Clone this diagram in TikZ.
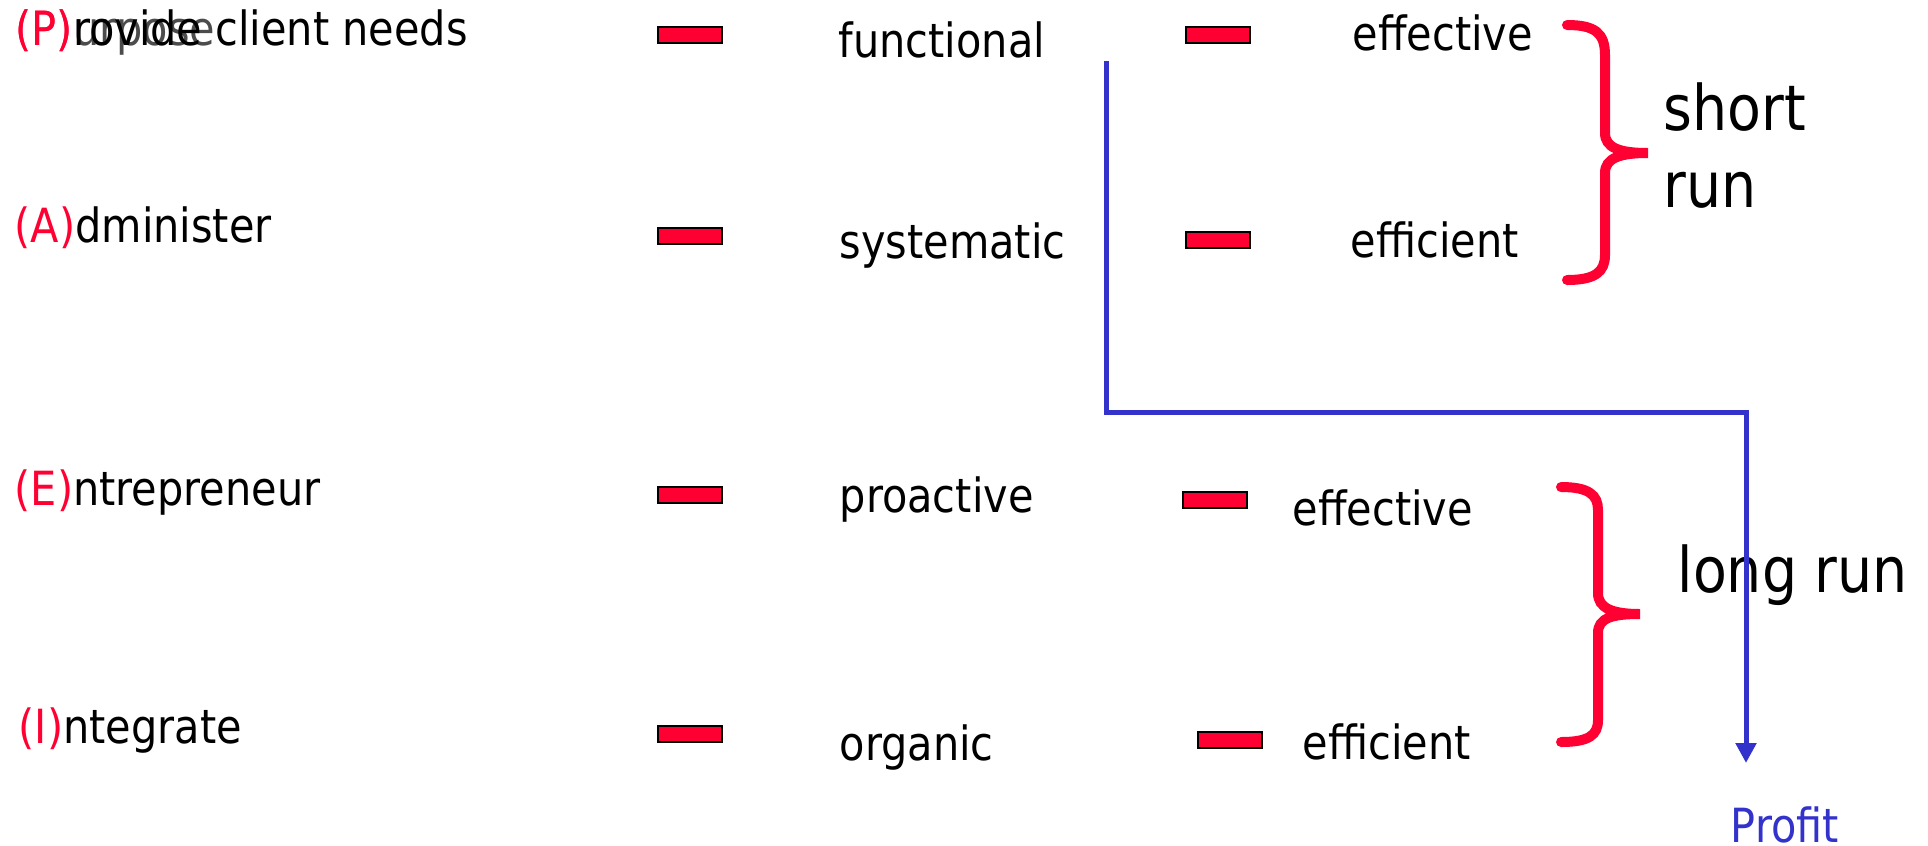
\documentclass[tikz,border=0pt]{standalone}
\usepackage{fontspec}
\setmainfont{DejaVu Sans}[FakeStretch=0.88]
\usepackage{tikz}
\usetikzlibrary{arrows.meta}
\definecolor{paeired}{HTML}{FF0033}
\definecolor{profitblue}{HTML}{3333CC}
\newcommand{\paei}[1]{\textcolor{paeired}{(#1)}}
\tikzstyle{word} = [anchor=base west, inner sep=0pt,
    font=\fontsize{13.4pt}{16pt}\selectfont]
\tikzstyle{bigword} = [anchor=base west, inner sep=0pt, align=left,
    font=\fontsize{17.9pt}{21.9pt}\selectfont]
\tikzstyle{bar} = [rectangle, draw=black, line width=0.6pt, fill=paeired,
    minimum width=0.64cm, minimum height=0.16cm, inner sep=0pt]
\tikzstyle{brace} = [draw=paeired, line width=0.1cm, line cap=round]
\tikzstyle{line} = [draw=profitblue, line width=0.05cm,
    -{Triangle[width=0.2cm,length=0.2cm]}]

\begin{document}
\begin{tikzpicture}[x=1cm, y=-1cm]
                \useasboundingbox (0,0) rectangle (19.28,8.45);
                % left column
                \node [word, text=black!70] at (0.15,0.45) (purpose) {\paei{P}urpose};
                \node [word] at (0.15,0.45) (provide) {\paei{P}rovide client needs};
                \node [word] at (0.14,2.42) (administer) {\paei{A}dminister};
                \node [word] at (0.14,5.05) (entrepreneur) {\paei{E}ntrepreneur};
                \node [word] at (0.18,7.43) (integrate) {\paei{I}ntegrate};
                \node [bar] at (6.90,0.35) (barP) {};
                \node [bar] at (6.90,2.36) (barA) {};
                \node [bar] at (6.90,4.95) (barE) {};
                \node [bar] at (6.90,7.34) (barI) {};
                % middle column
                \node [word] at (8.38,0.57) (functional) {functional};
                \node [word] at (8.39,2.58) (systematic) {systematic};
                \node [word] at (8.39,5.12) (proactive) {proactive};
                \node [word] at (8.39,7.60) (organic) {organic};
                \node [bar] at (12.18,0.35) (barfunc) {};
                \node [bar] at (12.18,2.40) (barsyst) {};
                \node [bar] at (12.15,5.00) (barpro) {};
                \node [bar] at (12.30,7.40) (barorg) {};
                % right column
                \node [word] at (13.52,0.50) (effshort) {effective};
                \node [word] at (13.50,2.57) (effishort) {efficient};
                \node [word] at (12.92,5.25) (efflong) {effective};
                \node [word] at (13.02,7.59) (effilong) {efficient};
                % braces
                \path [brace] (15.67,0.25) .. controls (15.95,0.25) and (16.05,0.33) .. (16.05,0.55)
                    -- (16.05,1.33) .. controls (16.05,1.48) and (16.20,1.53) .. (16.48,1.53)
                    .. controls (16.20,1.53) and (16.05,1.58) .. (16.05,1.73)
                    -- (16.05,2.55) .. controls (16.05,2.72) and (15.95,2.80) .. (15.67,2.80);
                \path [brace] (15.61,4.87) .. controls (15.89,4.87) and (15.98,4.95) .. (15.98,5.10)
                    -- (15.98,5.93) .. controls (15.98,6.08) and (16.12,6.14) .. (16.40,6.14)
                    .. controls (16.12,6.14) and (15.98,6.18) .. (15.98,6.33)
                    -- (15.98,7.20) .. controls (15.98,7.35) and (15.89,7.42) .. (15.61,7.42);
                \node [bigword, anchor=north west] at (16.63,0.82) (shortrun) {short\\run};
                \node [bigword] at (16.77,5.92) (longrun) {long run};
                % profit line
                \node [word, text=profitblue] at (17.30,8.42) (profit) {Profit};
                \coordinate (linestart) at (11.06,0.61);
                \coordinate (bend) at (11.06,4.12);
                \coordinate (profitend) at (17.46,7.63);
                \path [line] (linestart) -- (bend) -| (profitend);
            \end{tikzpicture}
\end{document}
